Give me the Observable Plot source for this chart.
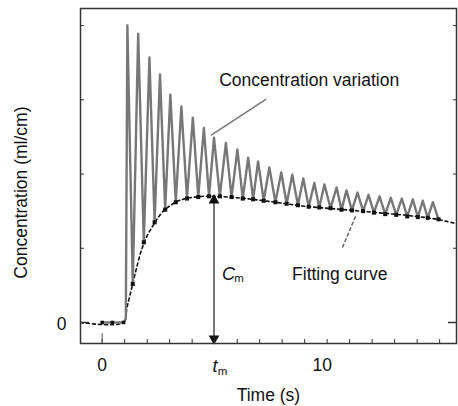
<!DOCTYPE html>
<html><head><meta charset="utf-8">
<script src="https://cdn.jsdelivr.net/npm/d3@7"></script>
<script src="https://cdn.jsdelivr.net/npm/@observablehq/plot@0.6"></script>
<style>
html,body{margin:0;padding:0;background:#fff;}
</style></head><body><div id="chart"></div>
<script>
// Measured concentration signal (alternating peaks and troughs), time in s
const signalTime = [0, 0.45, 0.95, 1.05, 1.12, 1.36, 1.60, 1.85, 2.10, 2.33, 2.57, 2.80, 3.03, 3.27, 3.52, 3.77, 4.03, 4.27, 4.52, 4.75, 4.97, 5.23, 5.50, 5.75, 6.01, 6.25, 6.49, 6.71, 6.93, 7.18, 7.43, 7.70, 7.96, 8.20, 8.45, 8.70, 8.94, 9.18, 9.43, 9.65, 9.88, 10.15, 10.42, 10.64, 10.86, 11.10, 11.35, 11.60, 11.84, 12.08, 12.33, 12.58, 12.83, 13.07, 13.32, 13.56, 13.81, 14.03, 14.25, 14.47, 14.70, 14.95];
const signalValue = [0, 0, 0, 0.05, 4.00, 0.52, 3.89, 1.08, 3.57, 1.35, 3.34, 1.52, 3.07, 1.62, 2.91, 1.67, 2.76, 1.69, 2.62, 1.70, 2.49, 1.70, 2.42, 1.69, 2.33, 1.67, 2.22, 1.66, 2.17, 1.64, 2.09, 1.62, 2.02, 1.60, 1.99, 1.58, 1.94, 1.56, 1.88, 1.55, 1.86, 1.54, 1.82, 1.52, 1.78, 1.51, 1.75, 1.50, 1.72, 1.48, 1.70, 1.46, 1.68, 1.45, 1.67, 1.43, 1.66, 1.42, 1.64, 1.41, 1.62, 1.39];
// Fitting curve (dashed)
const fitTime = [-0.96, 0.95, 1.1, 1.3, 1.5, 1.75, 2.0, 2.25, 2.5, 2.75, 3.0, 3.4, 3.9, 4.5, 5.0, 6.0, 7.2, 8.9, 11.5, 14.7, 15.75];
const fitValue = [0, 0, 0.2, 0.45, 0.7, 0.98, 1.17, 1.3, 1.42, 1.51, 1.57, 1.64, 1.68, 1.70, 1.70, 1.68, 1.64, 1.57, 1.50, 1.40, 1.33];
// Axis ticks and labels
const xTicks = [0, 1, 2, 3, 4, 5, 6, 7, 8, 9, 10, 11, 12, 13, 14, 15];
const xLabelValues = [0, 10];
const xLabels = ["0", "10"];
const yTicks = [1, 2, 3, 4];
const yZero = [0];
const yLabels = ["0"];
// Annotations
const tm = 4.97;
const cmValue = 1.70;
const xDomain = [-0.964, 15.75];
const yDomain = [-0.283, 4.23];

const signal = signalTime.map((t, i) => ({t, v: signalValue[i]}));
const troughs = signal.filter((d, i) => i >= 5 && i % 2 === 1);
const fit = fitTime.map((t, i) => ({t, v: fitValue[i]}));

const font = "'Liberation Sans', Arial, sans-serif";
const fs = 17.5;
const chart = Plot.plot({
  width: 458, height: 406,
  marginLeft: 80, marginRight: 2, marginTop: 8, marginBottom: 63,
  x: {domain: xDomain},
  y: {domain: yDomain},
  style: {fontFamily: font, fontSize: fs + "px", background: "#fff", color: "#111", overflow: "visible"},
  marks: [
    // data
    Plot.line(fit, {x: "t", y: "v", stroke: "#111", strokeWidth: 1.6, strokeDasharray: "3,3", curve: "catmull-rom"}),
    Plot.line(signal, {x: "t", y: "v", stroke: "#777", strokeWidth: 2.4}),
    Plot.dot(troughs, {x: "t", y: "v", symbol: "square", r: 2.3, fill: "#111"}),
    Plot.dot(signal.filter((d, i) => i < 3), {x: "t", y: "v", symbol: "square", r: 2, fill: "#111"}),
    // C_m arrow
    Plot.ruleX([tm], {y1: yDomain[0], y2: cmValue, stroke: "#777", strokeWidth: 2}),
    Plot.dot([tm], {x: d => d, y: cmValue, symbol: "triangle", r: 4, fill: "#111", dy: 4}),
    Plot.dot([tm], {x: d => d, y: yDomain[0], symbol: "triangle", rotate: 180, r: 4, fill: "#111", dy: -5}),
    // pointers
    Plot.link([0], {x1: 7.29, y1: 3.01, x2: 4.83, y2: 2.52, stroke: "#777", strokeWidth: 1.5}),
    Plot.link([0], {x1: 10.68, y1: 1.01, x2: 11.26, y2: 1.43, stroke: "#666", strokeWidth: 1.5, strokeDasharray: "4,2"}),
    // annotation texts
    Plot.text(["Concentration variation"], {x: 5.2, y: 3.26, textAnchor: "start", lineAnchor: "middle", fontSize: fs}),
    Plot.text(["Fitting curve"], {x: 8.44, y: 0.65, textAnchor: "start", lineAnchor: "middle", fontSize: fs}),
    Plot.text(["C"], {x: tm, y: 0.65, dx: 14.5, lineAnchor: "middle", fontStyle: "italic", fontSize: 18}),
    Plot.text(["m"], {x: tm, y: 0.65, dx: 25, dy: 4, lineAnchor: "middle", fontSize: 11.5}),
    // frame and axes
    Plot.frame({stroke: "#333", strokeWidth: 1.5}),
    Plot.axisX(xTicks, {anchor: "bottom", tickSize: -4, tickFormat: () => "", label: null, stroke: "#333"}),
    Plot.axisY(yTicks, {anchor: "left", tickSize: -4, tickFormat: () => "", label: null, stroke: "#333"}),
    Plot.axisY(yTicks, {anchor: "right", tickSize: -4, tickFormat: () => "", label: null, stroke: "#333"}),
    Plot.axisY(yZero, {anchor: "left", tickSize: -9, tickFormat: () => "", label: null, stroke: "#333", strokeWidth: 1.5}),
    Plot.axisY(yZero, {anchor: "right", tickSize: -9, tickFormat: () => "", label: null, stroke: "#333", strokeWidth: 1.5}),
    Plot.axisX([0], {anchor: "bottom", tickSize: -10, tickFormat: () => "", label: null, stroke: "#555"}),
    // tick labels
    Plot.text([xLabels[0]], {x: xLabelValues[0], frameAnchor: "bottom", textAnchor: "middle", lineAnchor: "middle", dy: 22, fontSize: fs}),
    Plot.text([xLabels[1]], {x: xLabelValues[1], frameAnchor: "bottom", textAnchor: "middle", lineAnchor: "middle", dy: 22, dx: -5, fontSize: fs}),
    Plot.text(yLabels, {y: (d, i) => yZero[i], frameAnchor: "left", textAnchor: "middle", lineAnchor: "middle", dx: -19, dy: 2, fontSize: fs}),
    Plot.text(["t"], {x: tm, frameAnchor: "bottom", textAnchor: "middle", lineAnchor: "middle", dy: 23, dx: 1, fontStyle: "italic", fontSize: 18}),
    Plot.text(["m"], {x: tm, frameAnchor: "bottom", textAnchor: "middle", lineAnchor: "middle", dy: 28, dx: 8.5, fontSize: 11.5}),
    // axis titles
    Plot.text(["Time (s)"], {x: 7.39, frameAnchor: "bottom", textAnchor: "middle", lineAnchor: "middle", dy: 52, fontSize: fs}),
    Plot.text(["Concentration (ml/cm)"], {y: 1.75, frameAnchor: "left", textAnchor: "middle", lineAnchor: "middle", dx: -59, rotate: -90, fontSize: fs})
  ]
});
document.getElementById("chart").appendChild(chart);
</script>
</body></html>
